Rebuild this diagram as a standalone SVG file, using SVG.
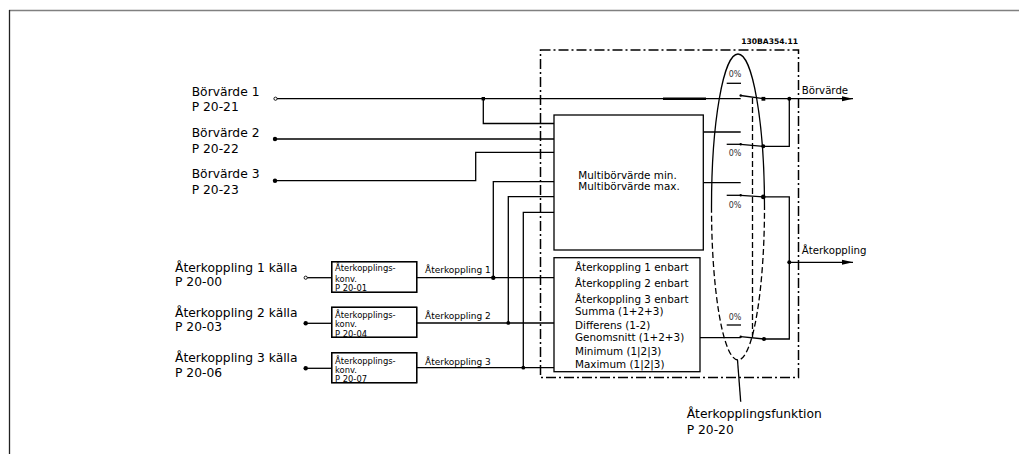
<svg xmlns="http://www.w3.org/2000/svg" width="1019" height="454" viewBox="0 0 1019 454">
<style>
text{font-family:"DejaVu Sans",Verdana,sans-serif;fill:#000}
.w{fill:none;stroke:#000;stroke-width:1.3}
.box{fill:#fff;stroke:#000;stroke-width:1.3}
.dd{fill:none;stroke:#000;stroke-width:1.5;stroke-dasharray:10 3 2 3}
.dash{fill:none;stroke:#000;stroke-width:1.3;stroke-dasharray:6 3}
.lbl{font-size:12.3px}
.fb{font-size:12.3px}
.small{font-size:8.4px}
.mid{font-size:9px}
.in{font-size:10.4px}
.out{font-size:10.2px}
.pct{font-size:8px;fill:#333}
</style>
<defs>
<marker id="arr" markerWidth="12" markerHeight="8" refX="11" refY="4" orient="auto" markerUnits="userSpaceOnUse">
<path d="M0,1.5 L11,4 L0,6.5 Z" fill="#000"/>
</marker>
</defs>
<rect width="1019" height="454" fill="#fff"/>
<g id="frame">
<line x1="9" y1="10.5" x2="1019" y2="10.5" stroke="#808080" stroke-width="1.6"/>
<line x1="9.5" y1="10" x2="9.5" y2="454" stroke="#222" stroke-width="1.3"/>
</g>
<g id="enclosure">
<rect x="540.5" y="50" width="258" height="327.5" class="dd"/>
<text x="798" y="43.5" font-size="7.6" font-weight="bold" text-anchor="end">130BA354.11</text>
</g>
<g id="connectors">
<path class="w" d="M276.5,98.7 H740.7"/>
<line x1="663" y1="98.7" x2="706" y2="98.7" stroke="#000" stroke-width="2.6"/>
<path class="w" d="M483.3,98.7 V123.5 H554"/>
<path class="w" d="M275,139 H554"/>
<path class="w" d="M275,180.7 H475.7 V152.3 H554"/>
<path class="w" d="M493.3,277.7 V181.7 H554"/>
<path class="w" d="M508.3,322.7 V196.7 H554"/>
<path class="w" d="M523.3,367.7 V212.3 H554"/>
<path class="w" d="M307.2,277.7 H331.7"/>
<path class="w" d="M305.7,323.3 H331.7"/>
<path class="w" d="M305.7,368.3 H331.7"/>
<path class="w" d="M416.7,277.7 H554"/>
<path class="w" d="M416.7,323 H554"/>
<path class="w" d="M416.7,367.7 H554"/>
<path class="w" d="M703.3,132 H740.7"/>
<path class="w" d="M703.3,182.7 H740.7"/>
<path class="w" d="M726.7,83.3 H741"/>
<path class="w" d="M726.7,144.3 H740.7"/>
<path class="w" d="M726.7,195.3 H740.7"/>
<path class="w" d="M726.7,325 H741"/>
<path class="w" d="M740.7,95.5 L763.3,98.7"/>
<path class="w" d="M740.7,144.3 L763.3,146.3"/>
<path class="w" d="M740.7,195.3 L763.3,196.9"/>
<path class="w" d="M740.7,336.7 L764,339"/>
<path class="w" d="M700,337.7 H740.7"/>
<path class="w" d="M763.3,98.7 H853" marker-end="url(#arr)"/>
<path class="w" d="M763.3,146.3 H789.3 V98.7"/>
<path class="w" d="M763.3,196.9 H789.3 V339 H764"/>
<path class="w" d="M789.3,262.3 H853" marker-end="url(#arr)"/>
<path class="dash" d="M752.5,98 V337.5"/>
<path class="w" d="M711.5,207 A26.5,153 0 0 1 764.5,207"/>
<path class="dash" d="M711.5,207 A26.5,153 0 0 0 764.5,207"/>
<path class="w" d="M737.5,360 L740.7,401.7"/>
<circle cx="275.5" cy="98.7" r="1.6" fill="#fff" stroke="#000" stroke-width="0.9"/>
<circle cx="275" cy="139" r="2.2"/>
<circle cx="275" cy="180.7" r="2.2"/>
<circle cx="305.7" cy="277.7" r="1.6" fill="#fff" stroke="#000" stroke-width="0.9"/>
<circle cx="305.7" cy="323.3" r="2.2"/>
<circle cx="305.7" cy="368.3" r="2.2"/>
<rect x="481.6" y="97" width="3.4" height="3.4"/>
<circle cx="493.3" cy="277.7" r="2.2"/>
<circle cx="508.3" cy="322.9" r="1.9"/>
<circle cx="523.3" cy="367.7" r="1.9"/>
<circle cx="740.7" cy="95.5" r="1.2"/>
<circle cx="740.7" cy="144.3" r="1.2"/>
<circle cx="740.7" cy="195.3" r="1.2"/>
<circle cx="740.7" cy="336.7" r="1.2"/>
<rect x="761.5" y="96.9" width="3.8" height="3.8"/>
<circle cx="763.3" cy="146.3" r="2"/>
<circle cx="763.3" cy="196.9" r="2.3"/>
<circle cx="764" cy="339" r="2.1"/>
<circle cx="789.3" cy="98.7" r="2"/>
<circle cx="789.3" cy="262.3" r="2"/>
</g>
<g id="sp1">
<text class="lbl" x="191.7" y="96">Börvärde 1</text>
<text class="lbl" x="191.7" y="111">P 20-21</text>
</g>
<g id="sp2">
<text class="lbl" x="191.7" y="137">Börvärde 2</text>
<text class="lbl" x="191.7" y="152.6">P 20-22</text>
</g>
<g id="sp3">
<text class="lbl" x="191.7" y="178.3">Börvärde 3</text>
<text class="lbl" x="191.7" y="193.6">P 20-23</text>
</g>
<g id="fb1">
<text class="fb" x="175" y="271.6">Återkoppling 1 källa</text>
<text class="fb" x="175" y="285.5">P 20-00</text>
</g>
<g id="fb2">
<text class="fb" x="175" y="317">Återkoppling 2 källa</text>
<text class="fb" x="175" y="331">P 20-03</text>
</g>
<g id="fb3">
<text class="fb" x="175" y="362">Återkoppling 3 källa</text>
<text class="fb" x="175" y="376.6">P 20-06</text>
</g>
<g id="conv1">
<rect class="box" x="331.7" y="261.7" width="85" height="30.6"/>
<text class="small" x="335" y="271.3">Återkopplings-</text>
<text class="small" x="335" y="281.6">konv.</text>
<text class="small" x="335" y="291.4">P 20-01</text>
<rect x="331.7" y="261.7" width="85" height="30.6" fill="none" stroke="#000" stroke-width="1.3"/>
</g>
<g id="conv2">
<rect class="box" x="331.7" y="307.3" width="85" height="30"/>
<text class="small" x="335" y="318">Återkopplings-</text>
<text class="small" x="335" y="327.3">konv.</text>
<text class="small" x="335" y="337">P 20-04</text>
<rect x="331.7" y="307.3" width="85" height="30" fill="none" stroke="#000" stroke-width="1.3"/>
</g>
<g id="conv3">
<rect class="box" x="331.7" y="352.7" width="85" height="30"/>
<text class="small" x="335" y="363.7">Återkopplings-</text>
<text class="small" x="335" y="373">konv.</text>
<text class="small" x="335" y="382.3">P 20-07</text>
<rect x="331.7" y="352.7" width="85" height="30" fill="none" stroke="#000" stroke-width="1.3"/>
</g>
<g id="fblabels">
<text class="mid" x="425" y="273.2">Återkoppling 1</text>
<text class="mid" x="425" y="319">Återkoppling 2</text>
<text class="mid" x="425" y="365">Återkoppling 3</text>
</g>
<g id="multi">
<rect class="box" x="554" y="115" width="149.3" height="135"/>
<text class="in" x="578.3" y="179.3">Multibörvärde min.</text>
<text class="in" x="578.3" y="190.3">Multibörvärde max.</text>
</g>
<g id="fbfunc">
<rect class="box" x="554" y="257.7" width="146" height="114"/>
<text class="in" x="575" y="271.4">Återkoppling 1 enbart</text>
<text class="in" x="575" y="287">Återkoppling 2 enbart</text>
<text class="in" x="575" y="302.7">Återkoppling 3 enbart</text>
<text class="in" x="575" y="315.4">Summa (1+2+3)</text>
<text class="in" x="575" y="328.7">Differens (1-2)</text>
<text class="in" x="575" y="341.4">Genomsnitt (1+2+3)</text>
<text class="in" x="575" y="354.7">Minimum (1|2|3)</text>
<text class="in" x="575" y="367.7">Maximum (1|2|3)</text>
</g>
<g id="pcts">
<text class="pct" x="735" y="77" text-anchor="middle">0%</text>
<text class="pct" x="735" y="156.3" text-anchor="middle">0%</text>
<text class="pct" x="735" y="208" text-anchor="middle">0%</text>
<text class="pct" x="735" y="320.3" text-anchor="middle">0%</text>
</g>
<g id="outputs">
<text class="out" x="801.7" y="94.3">Börvärde</text>
<text class="out" x="801.7" y="254.3">Återkoppling</text>
</g>
<g id="funclabel">
<text class="fb" x="686.7" y="417.7">Återkopplingsfunktion</text>
<text class="fb" x="686.7" y="433.7">P 20-20</text>
</g>
</svg>
